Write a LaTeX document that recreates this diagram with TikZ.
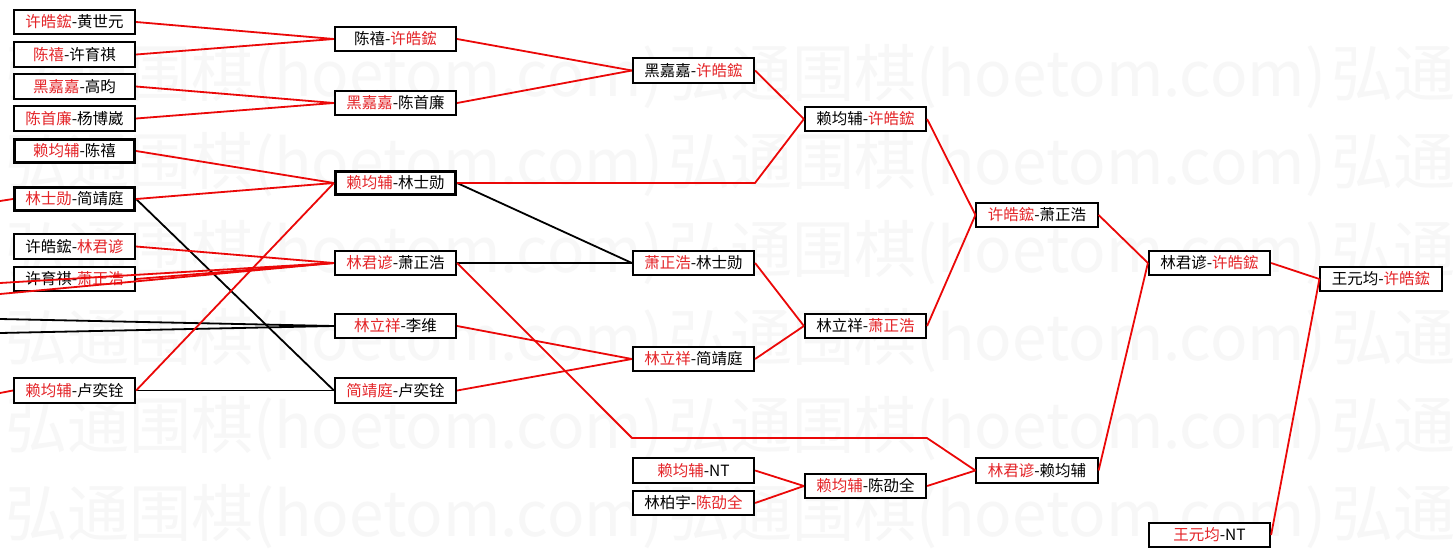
\documentclass[tikz,border=0pt]{standalone}
\usepackage{fontspec}
\newfontfamily\cjk{Noto Sans CJK SC}
\definecolor{wintext}{RGB}{228,36,40}
\definecolor{linered}{RGB}{235,8,8}
\definecolor{wmark}{RGB}{247,247,247}
\newcommand\winr[1]{\textcolor{wintext}{#1}}
\begin{document}
\begin{tikzpicture}[x=1pt,y=-1pt,
  box/.style={draw=black, fill=white, line width=1.7pt, minimum width=121.5pt, minimum height=24.5pt,
    inner sep=0pt, font=\cjk\fontsize{15.5}{15.5}\selectfont},
  thickbox/.style={box, line width=2.7pt, minimum width=120.5pt, minimum height=23.5pt},
  rl/.style={draw=linered, line width=1.8pt, line join=round},
  bl/.style={draw=black, line width=1.8pt, line join=round},
  wm/.style={anchor=base west, inner sep=0pt, text=wmark, font=\cjk\fontsize{62}{62}\selectfont}]
\useasboundingbox (0,0) rectangle (1453,557);
\fill[white] (0,0) rectangle (1453,557);
% watermark
\begin{scope}
\clip (0,0) rectangle (1453,557);
\foreach \r/\yy in {0/72,1/160,2/248,3/336,4/424,5/512}{
  \foreach \c/\xx in {0/5,1/668,2/1331}{
    \node[wm] (wm-\r-\c) at (\xx,\yy+24) {弘通围棋(hoetom.com)};
  }
}
\end{scope}
% column 1
\node[box] (c1a) at (74.5,22) {\winr{许皓鋐}-黄世元};
\node[box] (c1b) at (74.5,54.5) {\winr{陈禧}-许育祺};
\node[box] (c1c) at (74.5,86.5) {\winr{黑嘉嘉}-高昀};
\node[box] (c1d) at (74.5,118.5) {\winr{陈首廉}-杨博崴};
\node[thickbox] (c1e) at (74.5,151) {\winr{赖均辅}-陈禧};
\node[thickbox] (c1f) at (74.5,199) {\winr{林士勋}-简靖庭};
\node[box] (c1g) at (74.5,246.5) {许皓鋐-\winr{林君谚}};
\node[box] (c1h) at (74.5,279) {许育祺-\winr{萧正浩}};
\node[box] (c1i) at (74.5,390.5) {\winr{赖均辅}-卢奕铨};
% column 2
\node[box] (c2a) at (395.5,39) {陈禧-\winr{许皓鋐}};
\node[box] (c2b) at (395.5,103) {\winr{黑嘉嘉}-陈首廉};
\node[thickbox] (c2c) at (395.5,183) {\winr{赖均辅}-林士勋};
\node[box] (c2d) at (395.5,263) {\winr{林君谚}-萧正浩};
\node[box] (c2e) at (395.5,326) {\winr{林立祥}-李维};
\node[box] (c2f) at (395.5,390.5) {\winr{简靖庭}-卢奕铨};
% column 3
\node[box] (c3a) at (693.5,70.5) {黑嘉嘉-\winr{许皓鋐}};
\node[box] (c3b) at (693.5,263) {\winr{萧正浩}-林士勋};
\node[box] (c3c) at (693.5,359) {\winr{林立祥}-简靖庭};
\node[box] (c3d) at (693.5,470.5) {\winr{赖均辅}-NT};
\node[box] (c3e) at (693.5,503) {林柏宇-\winr{陈劭全}};
% column 4
\node[box] (c4a) at (865.5,119) {赖均辅-\winr{许皓鋐}};
\node[box] (c4b) at (865.5,326) {林立祥-\winr{萧正浩}};
\node[box] (c4c) at (865.5,486) {\winr{赖均辅}-陈劭全};
% column 5
\node[box] (c5a) at (1037,215) {\winr{许皓鋐}-萧正浩};
\node[box] (c5b) at (1037,470.5) {\winr{林君谚}-赖均辅};
% column 6
\node[box] (c6a) at (1209.5,263) {林君谚-\winr{许皓鋐}};
\node[box] (c6b) at (1209.5,535) {\winr{王元均}-NT};
% column 7
\node[box] (c7a) at (1381,279) {王元均-\winr{许皓鋐}};
% free ends and bends
\coordinate (l0) at (0,201);
\coordinate (l1) at (0,283);
\coordinate (l2) at (0,294);
\coordinate (l9) at (0,393);
\coordinate (k1) at (0,319);
\coordinate (k2) at (0,333);
\coordinate (p1) at (755,183);
\coordinate (p2) at (632,438);
\coordinate (p3) at (927,438);
% black connectors
\draw[bl] (c1f.east) -- (c2f.west);
\draw[bl, line width=1.3pt] (c1i.east) -- (c2f.west);
\draw[bl] (k1) -- (c2e.west);
\draw[bl] (k2) -- (c2e.west);
\draw[bl] (c2c.east) -- (c3b.west);
\draw[bl] (c2d.east) -- (c3b.west);
% red connectors
\draw[rl] (l0) -- (c1f.west);
\draw[rl] (l9) -- (c1i.west);
\draw[rl] (c1a.east) -- (c2a.west);
\draw[rl] (c1b.east) -- (c2a.west);
\draw[rl] (c1c.east) -- (c2b.west);
\draw[rl] (c1d.east) -- (c2b.west);
\draw[rl] (c1e.east) -- (c2c.west);
\draw[rl] (c1f.east) -- (c2c.west);
\draw[rl] (c1i.east) -- (c2c.west);
\draw[rl] (c1g.east) -- (c2d.west);
\draw[rl] (c1h.east) -- (c2d.west);
\draw[rl] (l1) -- (c2d.west);
\draw[rl] (l2) -- (c2d.west);
\draw[rl] (c2a.east) -- (c3a.west);
\draw[rl] (c2b.east) -- (c3a.west);
\draw[rl] (c2c.east) -- (p1) -- (c4a.west);
\draw[rl] (c2d.east) -- (p2) -- (p3) -- (c5b.west);
\draw[rl] (c2e.east) -- (c3c.west);
\draw[rl] (c2f.east) -- (c3c.west);
\draw[rl] (c3a.east) -- (c4a.west);
\draw[rl] (c3b.east) -- (c4b.west);
\draw[rl] (c3c.east) -- (c4b.west);
\draw[rl] (c3d.east) -- (c4c.west);
\draw[rl] (c3e.east) -- (c4c.west);
\draw[rl] (c4a.east) -- (c5a.west);
\draw[rl] (c4b.east) -- (c5a.west);
\draw[rl] (c4c.east) -- (c5b.west);
\draw[rl] (c5a.east) -- (c6a.west);
\draw[rl] (c5b.east) -- (c6a.west);
\draw[rl] (c6a.east) -- (c7a.west);
\draw[rl] (c6b.east) -- (c7a.west);
\end{tikzpicture}
\end{document}
